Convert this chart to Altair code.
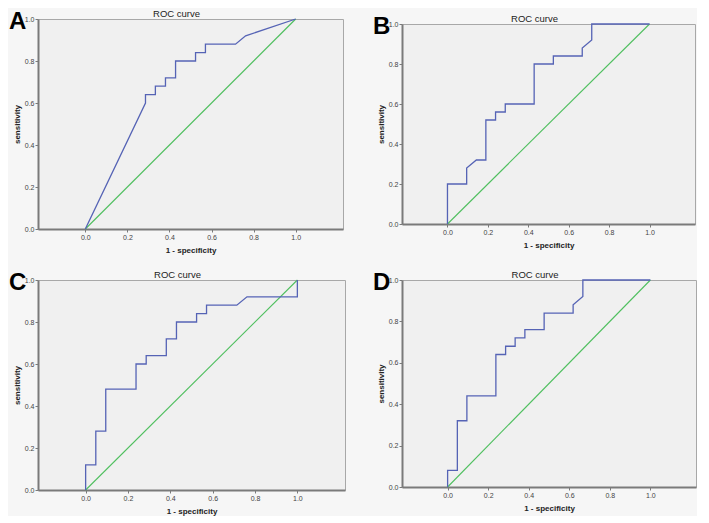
import altair as alt
import pandas as pd

# ---- data (1 - specificity, sensitivity) ----
a_fpr = [0.0, 0.286, 0.286, 0.333, 0.333, 0.381, 0.381, 0.429, 0.429, 0.524, 0.524, 0.571, 0.571, 0.714, 0.762, 1.0]
a_tpr = [0.0, 0.60, 0.64, 0.64, 0.68, 0.68, 0.72, 0.72, 0.80, 0.80, 0.84, 0.84, 0.88, 0.88, 0.92, 1.0]

b_fpr = [0.0, 0.0, 0.095, 0.095, 0.143, 0.190, 0.190, 0.238, 0.238, 0.286, 0.286, 0.429, 0.429, 0.524, 0.524, 0.667, 0.667, 0.714, 0.714, 1.0]
b_tpr = [0.0, 0.20, 0.20, 0.28, 0.32, 0.32, 0.52, 0.52, 0.56, 0.56, 0.60, 0.60, 0.80, 0.80, 0.84, 0.84, 0.88, 0.92, 1.0, 1.0]

c_fpr = [0.0, 0.0, 0.048, 0.048, 0.095, 0.095, 0.238, 0.238, 0.286, 0.286, 0.381, 0.381, 0.429, 0.429, 0.524, 0.524, 0.571, 0.571, 0.714, 0.762, 1.0, 1.0]
c_tpr = [0.0, 0.12, 0.12, 0.28, 0.28, 0.48, 0.48, 0.60, 0.60, 0.64, 0.64, 0.72, 0.72, 0.80, 0.80, 0.84, 0.84, 0.88, 0.88, 0.92, 0.92, 1.0]

d_fpr = [0.0, 0.0, 0.048, 0.048, 0.095, 0.095, 0.238, 0.238, 0.286, 0.286, 0.333, 0.333, 0.381, 0.381, 0.476, 0.476, 0.619, 0.619, 0.667, 0.667, 1.0]
d_tpr = [0.0, 0.08, 0.08, 0.32, 0.32, 0.44, 0.44, 0.64, 0.64, 0.68, 0.68, 0.72, 0.72, 0.76, 0.76, 0.84, 0.84, 0.88, 0.92, 1.0, 1.0]

# reference (chance) line end points
ref_x0 = [0.0]
ref_y0 = [0.0]
ref_x1 = [1.0]
ref_y1 = [1.0]

tick_values = [0.0, 0.2, 0.4, 0.6, 0.8, 1.0]
panel_letters = ["A", "B", "C", "D"]
chart_title = "ROC curve"
x_title = "1 - specificity"
y_title = "sensitivity"

BLUE = "#5563b5"
GREEN = "#4fbf5f"
FONT = "Liberation Sans"


def panel(letter, fpr, tpr, w, h):
    df = pd.DataFrame({"fpr": fpr, "tpr": tpr, "step": list(range(len(fpr)))})
    ref = pd.DataFrame({"x0": ref_x0, "y0": ref_y0, "x1": ref_x1, "y1": ref_y1,
                        "panel": [letter]})
    lab = pd.DataFrame({"t": [letter], "title": [chart_title]})
    xs = alt.Scale(domain=[-0.225, 1.225], nice=False, zero=False)
    ys = alt.Scale(domain=[0, 1], nice=False)
    xax = alt.Axis(title=x_title, values=tick_values, format=".1f", grid=False,
                   titlePadding=6, labelPadding=1)
    yax = alt.Axis(title=y_title, values=tick_values, format=".1f", grid=False,
                   titlePadding=3, labelPadding=1)
    diag = alt.Chart(ref).mark_rule(color=GREEN, strokeWidth=1.1).encode(
        x=alt.X("x0:Q", scale=xs, axis=xax), y=alt.Y("y0:Q", scale=ys, axis=yax),
        x2="x1:Q", y2="y1:Q")
    roc = alt.Chart(df).mark_line(color=BLUE, strokeWidth=1.3).encode(
        x=alt.X("fpr:Q", scale=xs, axis=xax), y=alt.Y("tpr:Q", scale=ys, axis=yax),
        order="step:Q")
    letter_mark = alt.Chart(lab).mark_text(
        fontSize=24, fontWeight="bold", font=FONT, align="left", baseline="top",
        color="black").encode(x=alt.value(-29), y=alt.value(-9.5), text="t:N")
    title_mark = alt.Chart(lab).mark_text(
        fontSize=9.5, font=FONT, align="center", baseline="alphabetic",
        color="#222222").encode(x=alt.value(w / 2 - 14), y=alt.value(-2.5),
                                text="title:N")
    return alt.layer(diag, roc, letter_mark, title_mark).properties(width=w, height=h)


pa = panel(panel_letters[0], a_fpr, a_tpr, 305, 210)
pb = panel(panel_letters[1], b_fpr, b_tpr, 293, 200)
pc = panel(panel_letters[2], c_fpr, c_tpr, 307, 210)
pd_ = panel(panel_letters[3], d_fpr, d_tpr, 294, 207)

chart = alt.concat(pa, pb, pc, pd_, columns=2, spacing={"row": 51, "column": 57},
                   bounds="flush", center={"row": True}, align="all").properties(
    padding=0, background="#f6f6f6"
).configure_view(
    fill="#f0f0f0", stroke="#a8a8a8", strokeWidth=1
).configure_axis(
    domainColor="#7a7a7a", domainWidth=2, tickColor="#7a7a7a", tickSize=3,
    labelFontSize=7, labelColor="#444444", labelFont=FONT,
    titleFont=FONT, titleFontSize=8, titleFontWeight="bold", titleColor="#222222"
)

chart.save("out.html", embed_options={"renderer": "svg", "actions": False})
